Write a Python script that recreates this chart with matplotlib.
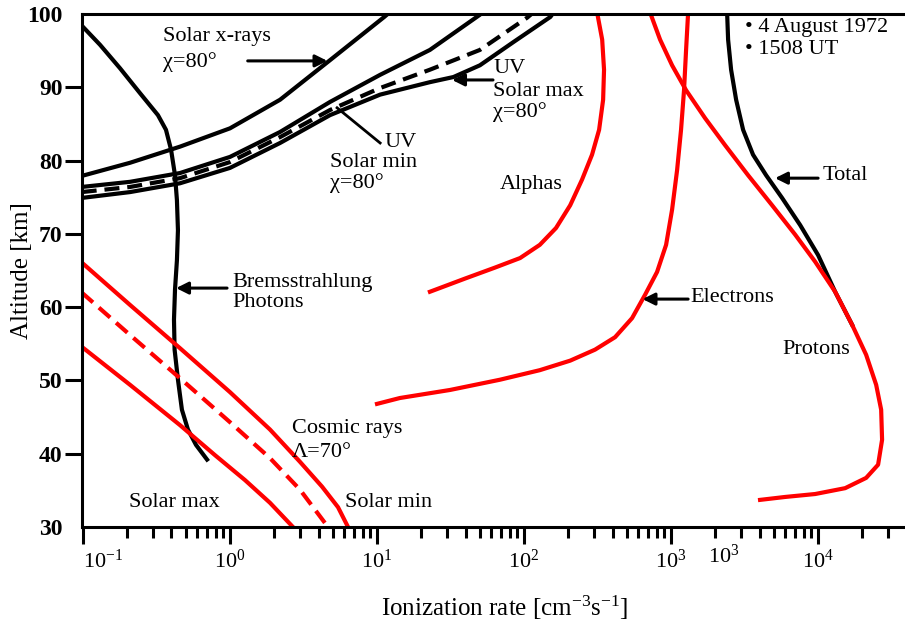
import matplotlib
matplotlib.use("Agg")
import matplotlib.pyplot as plt
from matplotlib.transforms import blended_transform_factory

plt.rcParams['font.family'] = ['Liberation Serif', 'DejaVu Serif']
plt.rcParams['mathtext.fontset'] = 'custom'
plt.rcParams['mathtext.rm'] = 'Liberation Serif'
plt.rcParams['mathtext.it'] = 'Liberation Serif:italic'
plt.rcParams['mathtext.bf'] = 'Liberation Serif:bold'

RED = '#ff0000'

# ---- data: ionization rate [cm-3 s-1] vs altitude [km] ----
xray_rate = [0.098, 0.209, 0.457, 1.0, 2.19, 4.79, 11.2, 12.3]
xray_alt = [77.9, 79.7, 81.9, 84.4, 88.3, 93.7, 99.6, 100.3]

uvmin_rate = [0.098, 0.209, 0.457, 1.0, 2.19, 4.79, 10.5, 22.9, 50.1, 52.0]
uvmin_alt = [76.4, 77.1, 78.3, 80.5, 83.9, 88.0, 91.7, 95.1, 99.9, 100.3]

uvdash_rate = [0.098, 0.209, 0.457, 1.0, 2.19, 4.79, 10.5, 22.9, 50.1, 105, 117]
uvdash_alt = [75.7, 76.4, 77.6, 79.8, 83.2, 86.9, 89.9, 92.4, 95.1, 99.5, 100.3]

uvmax_rate = [0.098, 0.209, 0.457, 1.0, 2.19, 4.79, 10.5, 22.9, 33.1, 50.1, 85.1, 151, 160]
uvmax_alt = [74.9, 75.7, 76.9, 79.0, 82.4, 86.2, 89.0, 90.7, 91.4, 93.0, 96.2, 99.6, 100.3]

brems_rate = [0.1016, 0.1306, 0.1786, 0.2443, 0.3236, 0.3669, 0.3972, 0.4227, 0.4356,
              0.4426, 0.4356, 0.4227, 0.416, 0.42, 0.4426, 0.471, 0.5176, 0.5875, 0.698]
brems_alt = [98.1, 95.8, 92.6, 89.2, 86.2, 84.2, 81.5, 78.0, 74.6,
             70.5, 66.4, 62.4, 58.3, 54.2, 50.1, 46.0, 43.3, 41.2, 39.2]

cr_min_rate = [0.098, 0.209, 0.457, 1.0, 1.871, 2.99, 4.23, 5.43, 6.35]
cr_min_alt = [66.1, 60.3, 54.4, 48.4, 43.3, 38.9, 35.5, 32.7, 30.0]

cr_mid_rate = [0.098, 0.209, 0.457, 1.0, 1.871, 2.99, 4.64]
cr_mid_alt = [62.0, 56.2, 50.3, 44.3, 39.4, 35.1, 30.0]

cr_max_rate = [0.098, 0.209, 0.457, 0.791, 1.265, 1.871, 2.68]
cr_max_alt = [54.6, 49.4, 43.9, 39.8, 36.4, 33.3, 30.0]

alpha_rate = [314, 340, 350, 345, 324, 290, 248, 206, 165, 128, 94.0, 63.5, 39.7, 22.9]
alpha_alt = [100.2, 96.5, 92.4, 88.3, 84.2, 80.8, 77.4, 73.9, 70.8, 68.5, 66.7, 65.4, 63.9, 62.1]

elec_rate = [1306, 1265, 1225, 1169, 1099, 1016, 925, 803, 666, 543, 416, 304, 206,
             128, 68.7, 31.4, 14.3, 10.0]
elec_alt = [100.2, 95.1, 89.6, 84.2, 78.7, 73.3, 68.5, 64.8, 61.7, 58.5, 55.9, 54.2, 52.7,
            51.4, 50.1, 48.7, 47.6, 46.8]

prot_rate = [720, 842, 1016, 1265, 1702, 2330, 3340, 4866, 6980, 9550, 13060, 17030,
             21220, 24830, 26850, 27240, 25590, 21220, 15280, 9550, 5970, 4030]
prot_alt = [100.2, 96.5, 93.0, 89.6, 85.8, 82.1, 78.0, 73.9, 69.9, 66.2, 62.1, 57.6,
            53.5, 49.4, 46.0, 41.9, 38.5, 36.7, 35.3, 34.5, 34.1, 33.7]

total_rate = [2405, 2443, 2560, 2770, 3090, 3610, 4430, 5690, 7550, 10000, 13060, 17030]
total_alt = [100.2, 96.5, 92.4, 88.3, 84.2, 80.8, 78.0, 74.9, 71.2, 67.1, 62.1, 57.6]

xtick_pos = [0.1, 1, 10, 100, 1000, 10000]
xtick_lab = [r'$10^{-1}$', r'$10^{0}$', r'$10^{1}$', r'$10^{2}$', r'$10^{3}$', r'$10^{4}$']
ytick_pos = [30, 40, 50, 60, 70, 80, 90, 100]

fig = plt.figure(figsize=(9.05, 6.24), dpi=100)
ax = fig.add_axes([82 / 905, 1 - 527 / 624, 1 - 82 / 905, (527 - 14) / 624])

LW = 3.0
DASH = (3.6, 1.9)
ax.plot(xray_rate, xray_alt, color='k', lw=LW)
ax.plot(uvmin_rate, uvmin_alt, color='k', lw=LW)
ax.plot(uvdash_rate, uvdash_alt, color='k', lw=LW, dashes=DASH)
ax.plot(uvmax_rate, uvmax_alt, color='k', lw=LW)
ax.plot(brems_rate, brems_alt, color='k', lw=LW)
ax.plot(total_rate, total_alt, color='k', lw=LW)

ax.plot(cr_min_rate, cr_min_alt, color=RED, lw=LW)
ax.plot(cr_mid_rate, cr_mid_alt, color=RED, lw=LW, dashes=DASH)
ax.plot(cr_max_rate, cr_max_alt, color=RED, lw=LW)
ax.plot(alpha_rate, alpha_alt, color=RED, lw=LW)
ax.plot(elec_rate, elec_alt, color=RED, lw=LW)
ax.plot(prot_rate, prot_alt, color=RED, lw=LW)

ax.set_xscale('log')
ax.set_xlim(0.0985, 3.9e4)
ax.set_ylim(30, 100)

ax.set_xticks(xtick_pos)
ax.set_xticklabels(xtick_lab)
ax.xaxis.get_majorticklabels()[0].set_horizontalalignment('left')
ax.set_yticks(ytick_pos)
ax.set_yticklabels([str(v) for v in ytick_pos], fontweight='bold')
for t in (ax.yaxis.get_major_ticks()[0], ax.yaxis.get_major_ticks()[-1]):
    t.tick1line.set_visible(False)

ax.tick_params(axis='both', which='major', direction='out', length=12, width=2.2, colors='k')
ax.tick_params(axis='x', which='minor', direction='out', length=8, width=2.2)
ax.tick_params(axis='x', labelsize=16, pad=4)
ax.tick_params(axis='y', labelsize=17, pad=2)

# misprinted second 10^3 label of the original figure
trans = blended_transform_factory(ax.transData, ax.transAxes)
ax.text(2300, -0.035, r'$10^{3}$', transform=trans, ha='center', va='top', fontsize=16)

ax.spines['right'].set_visible(False)
for side in ['left', 'top', 'bottom']:
    ax.spines[side].set_linewidth(2.2)

ax.set_xlabel(r'Ionization rate [cm$^{-3}$s$^{-1}$]', fontsize=18)
ax.xaxis.set_label_coords(0.514, -0.13)
ax.set_ylabel('Altitude [km]', fontsize=18)
ax.yaxis.set_label_coords(-0.06, 0.5)

FS = 16
arrow = dict(arrowstyle='-|>', color='k', lw=2.2, mutation_scale=18, shrinkA=0, shrinkB=0)


def label(x, y, s, ha='left'):
    ax.text(x, y, s, fontsize=FS, ha=ha, va='center')


label(0.35, 96.9, 'Solar x-rays')
label(0.35, 93.4, 'χ=80°')
ax.annotate('', xy=(4.6, 93.6), xytext=(1.32, 93.6), arrowprops=arrow)

label(18.7, 82.5, 'UV', ha='right')
label(4.79, 79.7, 'Solar min')
label(4.79, 76.9, 'χ=80°')
ax.plot([10.5, 5.35], [82.4, 87.2], color='k', lw=2.0)

label(61.5, 92.6, 'UV')
label(61.5, 89.4, 'Solar max')
label(61.5, 86.6, 'χ=80°')
ax.annotate('', xy=(32.4, 91.0), xytext=(61.5, 91.0), arrowprops=arrow)

label(1.03, 63.4, 'Bremsstrahlung')
label(1.03, 60.7, 'Photons')
ax.annotate('', xy=(0.43, 62.6), xytext=(0.955, 62.6), arrowprops=arrow)

label(2.64, 43.5, 'Cosmic rays')
label(2.64, 40.2, 'Λ=70°')
label(0.206, 33.3, 'Solar max')
label(6.06, 33.3, 'Solar min')

label(68.7, 76.7, 'Alphas')

label(1346, 61.3, 'Electrons')
ax.annotate('', xy=(640, 61.1), xytext=(1306, 61.1), arrowprops=arrow)

label(10650, 77.9, 'Total')
ax.annotate('', xy=(5093, 77.6), xytext=(10000, 77.6), arrowprops=arrow)

label(5690, 54.2, 'Protons')

label(3188, 98.1, '• 4 August 1972')
label(3188, 95.2, '• 1508 UT')

fig.savefig('out.png', dpi=100)
